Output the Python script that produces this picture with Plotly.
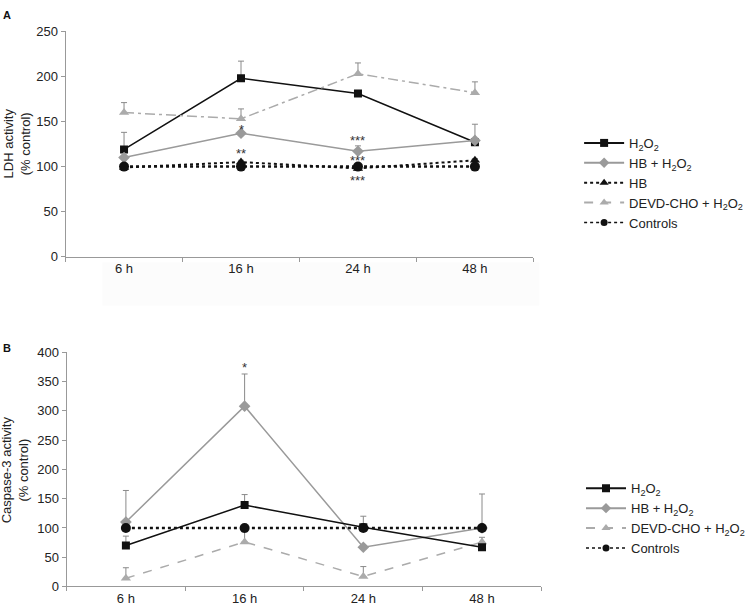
import plotly.graph_objects as go

cats = ["6 h", "16 h", "24 h", "48 h"]

# Panel A: LDH activity (% control)
ldh_h2o2 = [119, 198, 181, 127]
ldh_h2o2_err = [19, 19, 3, 0]
ldh_hb_h2o2 = [110, 137, 117, 129]
ldh_hb_h2o2_err = [0, 0, 6, 18]
ldh_hb = [99, 105, 98, 107]
ldh_hb_err = [0, 2, 2, 2]
ldh_devd = [160, 153, 203, 182]
ldh_devd_err = [11, 11, 12, 12]
ldh_ctrl = [100, 100, 100, 100]

# Panel B: Caspase-3 activity (% control)
casp_h2o2 = [70, 139, 101, 67]
casp_h2o2_err = [16, 18, 19, 0]
casp_hb_h2o2 = [110, 308, 67, 100]
casp_hb_h2o2_err = [54, 55, 0, 58]
casp_devd = [14, 76, 17, 76]
casp_devd_err = [18, 17, 17, 8]
casp_ctrl = [100, 100, 100, 100]

# significance marks: (category, y, text)
sig_a = [("16 h", 145, "*"), ("16 h", 118, "**"), ("24 h", 132, "***"),
         ("24 h", 110, "***"), ("24 h", 88, "***")]
sig_b = [("16 h", 380, "*")]

BLACK = "#111111"
GRAY = "#9a9a9a"
LGRAY = "#ababab"
ERRC = "#8a8a8a"
FONT = "Liberation Sans, Arial, sans-serif"
H2 = "H<sub>2</sub>O<sub>2</sub>"

fig = go.Figure()


def err(vals):
    return dict(type="data", array=vals, arrayminus=[0] * len(vals),
                symmetric=False, color=ERRC, thickness=1, width=3)


def add(x_ax, y_ax, y, e, name, color, dash, width, symbol, msize):
    fig.add_trace(go.Scatter(
        x=cats, y=y, name=name, mode="lines+markers",
        line=dict(color=color, dash=dash, width=width),
        marker=dict(symbol=symbol, size=msize, color=color),
        error_y=err(e) if e is not None else None,
        xaxis=x_ax, yaxis=y_ax, showlegend=False))


def leg(x_ax, y_ax, legend, name, color, dash, width, symbol, msize):
    fig.add_trace(go.Scatter(x=[None], y=[None], name=name, mode="lines+markers",
                             line=dict(color=color, dash=dash, width=width),
                             marker=dict(symbol=symbol, size=msize, color=color),
                             xaxis=x_ax, yaxis=y_ax, legend=legend))


# Panel A
add("x", "y", ldh_h2o2, ldh_h2o2_err, H2, BLACK, "solid", 1.5, "square", 8)
add("x", "y", ldh_hb_h2o2, ldh_hb_h2o2_err, "HB + " + H2, GRAY, "solid", 1.5, "diamond", 9)
add("x", "y", ldh_devd, ldh_devd_err, "DEVD-CHO + " + H2, LGRAY, "10px,4px,3px,4px", 1.5, "triangle-up", 9)
add("x", "y", ldh_hb, ldh_hb_err, "HB", BLACK, "dot", 2, "triangle-up", 9)
add("x", "y", ldh_ctrl, None, "Controls", BLACK, "dot", 2.5, "circle", 10)

leg("x", "y", "legend", H2, BLACK, "solid", 2, "square", 8)
leg("x", "y", "legend", "HB + " + H2, GRAY, "solid", 2, "diamond", 8)
leg("x", "y", "legend", "HB", BLACK, "dot", 2, "triangle-up", 8)
leg("x", "y", "legend", "DEVD-CHO + " + H2, LGRAY, "dash", 2, "triangle-up", 8)
leg("x", "y", "legend", "Controls", BLACK, "dot", 1.5, "circle", 7)

# Panel B
add("x2", "y2", casp_devd, casp_devd_err, "DEVD-CHO + " + H2, LGRAY, "dash", 1.5, "triangle-up", 9)
add("x2", "y2", casp_hb_h2o2, casp_hb_h2o2_err, "HB + " + H2, GRAY, "solid", 1.5, "diamond", 9)
add("x2", "y2", casp_h2o2, casp_h2o2_err, H2, BLACK, "solid", 1.5, "square", 8)
add("x2", "y2", casp_ctrl, None, "Controls", BLACK, "dot", 2.5, "circle", 10)

leg("x2", "y2", "legend2", H2, BLACK, "solid", 2, "square", 8)
leg("x2", "y2", "legend2", "HB + " + H2, GRAY, "solid", 2, "diamond", 8)
leg("x2", "y2", "legend2", "DEVD-CHO + " + H2, LGRAY, "dash", 2, "triangle-up", 8)
leg("x2", "y2", "legend2", "Controls", BLACK, "dot", 1.5, "circle", 7)

W, H = 750, 613


def px(v):
    return v / W


def py(v):
    return 1 - v / H


axis_common = dict(showgrid=False, zeroline=False, showline=True, linecolor="#999999",
                   linewidth=1, ticks="outside", ticklen=4, tickcolor="#999999",
                   tickfont=dict(family=FONT, size=13, color="#222222"))

legend_common = dict(xanchor="left", yanchor="top",
                     font=dict(family=FONT, size=13, color="#222222"),
                     bgcolor="rgba(0,0,0,0)", tracegroupgap=0, itemwidth=40)

fig.update_layout(
    width=W, height=H, margin=dict(l=0, r=0, t=0, b=0),
    paper_bgcolor="white", plot_bgcolor="white",
    font=dict(family=FONT, size=13, color="#222222"),
    xaxis=dict(domain=[px(66), px(537)], anchor="y", type="category",
               range=[-0.5, 3.5], tickson="boundaries", **axis_common),
    yaxis=dict(domain=[py(256), py(25)], anchor="x", range=[0, 250],
               tickvals=[0, 50, 100, 150, 200, 250], **axis_common),
    xaxis2=dict(domain=[px(67), px(545)], anchor="y2", type="category",
                range=[-0.5, 3.5], tickson="boundaries", **axis_common),
    yaxis2=dict(domain=[py(594), py(354)], anchor="x2", range=[0, 400],
                tickvals=[0, 50, 100, 150, 200, 250, 300, 350, 400], **axis_common),
    legend=dict(x=px(583), y=py(124), **legend_common),
    legend2=dict(x=px(585), y=py(478), **legend_common),
    shapes=[dict(type="rect", xref="paper", yref="paper", layer="below",
                 x0=px(103), x1=px(543), y0=py(306), y1=py(262),
                 fillcolor="#fcfcfc", line=dict(width=0))],
)

annotations = []
for c, y, t in sig_a:
    annotations.append(dict(x=c, y=y, xref="x", yref="y", text=t, showarrow=False,
                            font=dict(family=FONT, size=13, color="#333333"), yshift=-3))
for c, y, t in sig_b:
    annotations.append(dict(x=c, y=y, xref="x2", yref="y2", text=t, showarrow=False,
                            font=dict(family=FONT, size=13, color="#333333"), yshift=-3))

annotations += [
    dict(x=px(1), y=py(8), xref="paper", yref="paper", text="<b>A</b>", showarrow=False,
         xanchor="left", yanchor="middle", font=dict(family=FONT, size=11, color="#111111")),
    dict(x=px(1), y=py(350), xref="paper", yref="paper", text="<b>B</b>", showarrow=False,
         xanchor="left", yanchor="middle", font=dict(family=FONT, size=11, color="#111111")),
    dict(x=px(17), y=py(140), xref="paper", yref="paper",
         text="LDH activity<br>(% control)", showarrow=False, textangle=-90,
         xanchor="center", yanchor="middle", font=dict(family=FONT, size=13, color="#222222")),
    dict(x=px(16), y=py(474), xref="paper", yref="paper",
         text="Caspase-3 activity<br>(% control)", showarrow=False, textangle=-90,
         xanchor="center", yanchor="middle", font=dict(family=FONT, size=13, color="#222222")),
]
fig.update_layout(annotations=annotations)

fig.write_html("out.html", config={"displayModeBar": False},
               post_script="document.body.style.margin='0';document.body.style.overflow='hidden';")
